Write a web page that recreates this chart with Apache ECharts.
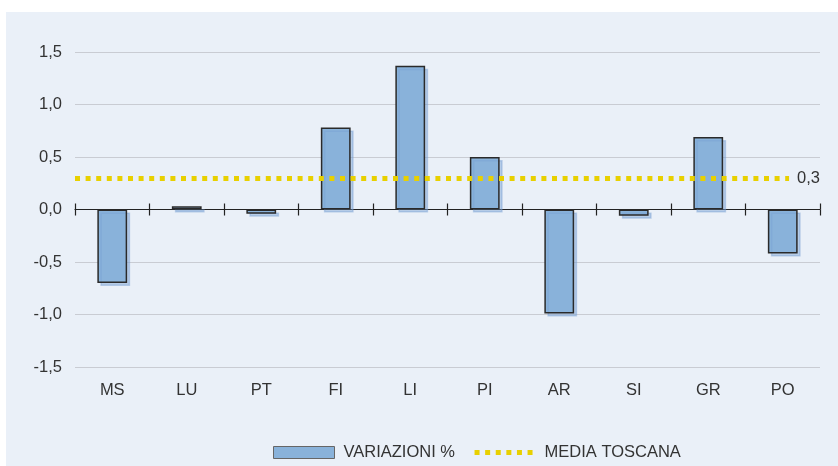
<!DOCTYPE html>
<html><head><meta charset="utf-8">
<script src="https://cdn.jsdelivr.net/npm/echarts@6/dist/echarts.min.js"></script>
<style>
html,body{margin:0;padding:0;background:#fff;}
#bg{position:absolute;left:6px;top:12px;width:832px;height:454px;background:#eaf0f8;}
#chart{position:absolute;left:0;top:0;width:838px;height:466px;}
</style></head>
<body>
<div id="bg"></div>
<div id="chart"></div>
<script>
const categories = ['MS','LU','PT','FI','LI','PI','AR','SI','GR','PO'];
const variazioni = [-0.70, 0.03, -0.04, 0.78, 1.37, 0.50, -0.99, -0.06, 0.69, -0.42];
const mediaToscana = 0.3;
const yTicks = {min: -1.5, max: 1.5, interval: 0.5};
const seriesNames = ['VARIAZIONI %', 'MEDIA TOSCANA'];

const FONT = "'Liberation Sans', Arial, sans-serif";
const FS = 16.5;
const YELLOW = '#e8d000';
const fmt = v => v.toFixed(1).replace('.', ',');

const chart = echarts.init(document.getElementById('chart'), null, {renderer: 'canvas'});
chart.setOption({
  backgroundColor: 'transparent',
  animation: false,
  textStyle: {fontFamily: FONT},
  grid: {left: 75, right: 18, top: 52, bottom: 99},
  legend: {
    left: 268, top: 439, itemWidth: 61, itemHeight: 12, itemGap: 17,
    textStyle: {fontFamily: FONT, fontSize: FS, color: '#333', padding: [0, 0, 0, 4]},
    data: [
      {name: seriesNames[0], icon: 'rect', itemStyle: {borderColor: '#666', borderWidth: 1}},
      {name: seriesNames[1], itemStyle: {opacity: 0},
       lineStyle: {color: YELLOW, width: 5, type: [5, 5.6]}}
    ]
  },
  xAxis: [
    {type: 'category', data: categories, boundaryGap: true, position: 'bottom',
     axisLine: {onZero: true, onZeroAxisIndex: 0, lineStyle: {color: '#222', width: 1.2}},
     axisTick: {show: true, length: 6, inside: false, lineStyle: {color: '#222', width: 1.2}},
     axisLabel: {show: false}, splitLine: {show: false}},
    {type: 'category', data: categories, boundaryGap: true, position: 'top',
     axisLine: {show: true, onZero: true, onZeroAxisIndex: 1, lineStyle: {color: 'rgba(0,0,0,0)', width: 0}},
     axisTick: {show: true, length: 6, inside: false, lineStyle: {color: '#222', width: 1.2}},
     axisLabel: {show: false}, splitLine: {show: false}},
    {type: 'category', data: categories, boundaryGap: true, position: 'bottom',
     axisLine: {onZero: false, show: false}, axisTick: {show: false},
     axisLabel: {show: true, margin: 15, fontFamily: FONT, fontSize: FS, color: '#333'}}
  ],
  yAxis: [
    {type: 'value', min: yTicks.min, max: yTicks.max, interval: yTicks.interval,
     axisLine: {show: false}, axisTick: {show: false},
     axisLabel: {margin: 13, fontFamily: FONT, fontSize: FS, color: '#333', formatter: fmt},
     splitLine: {lineStyle: {color: '#c9ccd3', width: 1.2}}},
    {type: 'value', min: yTicks.min, max: yTicks.max, interval: yTicks.interval,
     axisLine: {show: false}, axisTick: {show: false}, axisLabel: {show: false},
     splitLine: {show: false}}
  ],
  series: [
    {name: seriesNames[0], type: 'bar', xAxisIndex: 0, yAxisIndex: 0, data: variazioni, barWidth: '40%',
     itemStyle: {color: '#89b2da', borderColor: '#2a2a2a', borderWidth: 1.5,
       shadowColor: 'rgba(120,160,210,0.45)', shadowOffsetX: 3, shadowOffsetY: 3, shadowBlur: 0}},
    {name: seriesNames[1], type: 'line', xAxisIndex: 0, yAxisIndex: 0, data: [], symbol: 'none',
     color: YELLOW,
     lineStyle: {color: YELLOW, width: 5, type: [5, 5.6]},
     markLine: {
       silent: true, symbol: 'none',
       lineStyle: {color: YELLOW, width: 5, type: [5, 5.6]},
       label: {show: true, position: 'insideEnd', formatter: () => fmt(mediaToscana),
               fontFamily: FONT, fontSize: FS, color: '#333',
               backgroundColor: '#eaf0f8', padding: [2, 0, 2, 8], distance: 0},
       data: [{yAxis: mediaToscana}]
     }}
  ]
});
</script>
</body></html>
